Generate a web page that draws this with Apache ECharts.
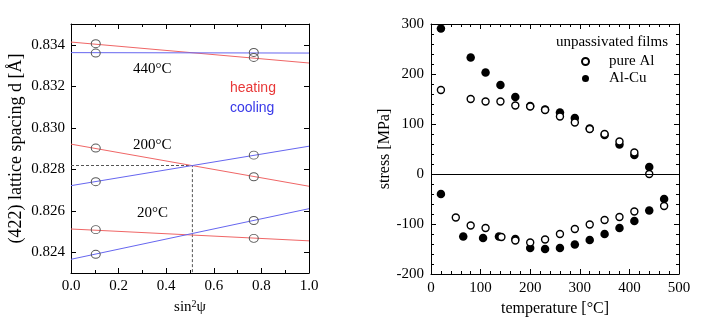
<!DOCTYPE html>
<html>
<head>
<meta charset="utf-8">
<script src="https://cdn.jsdelivr.net/npm/echarts@6/dist/echarts.min.js"></script>
<style>html,body{margin:0;padding:0;background:#fff;}#c{width:710px;height:323px;}</style>
</head>
<body>
<div id="c"></div>
<script>
// ---- Left panel: d vs sin^2 psi ----
const lineEndsPsi = [0, 1];
const heat440 = [0.83413, 0.83312];
const cool440 = [0.83362, 0.83360];
const heat200 = [0.82921, 0.82718];
const cool200 = [0.82721, 0.82911];
const heat20 = [0.82512, 0.82455];
const cool20 = [0.82366, 0.82610];
const measPsi = [0.104, 0.768];
const measAtLowPsi = [0.83405, 0.83360, 0.82902, 0.82740, 0.82509, 0.82390];
const measAtHighPsi = [0.83363, 0.83339, 0.82868, 0.82764, 0.82553, 0.82467];
const crossPsi = 0.51, crossD = 0.82818;
const leftYTicks = [0.824, 0.826, 0.828, 0.830, 0.832, 0.834];
const tempLabels = ['440°C', '200°C', '20°C'];

// ---- Right panel: stress vs temperature ----
const alUpperT = [20, 80, 110, 140, 170, 200, 230, 260, 290, 320, 350, 380, 410, 440];
const alUpperS = [168, 150, 145, 145, 137, 135, 128, 115, 103, 90, 80, 65, 43, 0];
const alLowerT = [50, 80, 110, 142, 170, 200, 230, 260, 290, 320, 350, 380, 410, 470];
const alLowerS = [-87, -103, -108, -126, -133, -137, -131, -120, -110, -101, -92, -86, -75, -64];
const cuUpperT = [20, 80, 110, 140, 170, 200, 230, 260, 290, 320, 350, 380, 410, 440];
const cuUpperS = [291, 233, 203, 178, 154, 136, 129, 123, 112, 91, 78, 59, 38, 14];
const cuLowerT = [20, 65, 105, 137, 170, 200, 230, 260, 290, 320, 350, 380, 410, 440, 470];
const cuLowerS = [-40, -125, -128, -125, -130, -148, -150, -148, -141, -132, -120, -108, -94, -73, -50];

const SERIF = '"Liberation Serif", "DejaVu Serif", serif';
const SANS = '"Liberation Sans", Arial, sans-serif';
const RED = '#f06666', BLUE = '#6666f0';

const pairs = (xs, ys) => xs.map((x, i) => [x, ys[i]]);
const ends = arr => pairs(lineEndsPsi, arr);

function frameAxes(gridIndex, minorSplit) {
  return {
    gridIndex, axisLine: {show: true, onZero: false, lineStyle: {color: '#000', width: 1}},
    splitLine: {show: false},
    axisTick: {show: true, inside: true, length: 5, lineStyle: {color: '#000'}},
    minorTick: {show: true, splitNumber: minorSplit, length: 3, lineStyle: {color: '#000'}},
  };
}

const chart = echarts.init(document.getElementById('c'), null, {renderer: 'canvas'});

const labelStyle = {color: '#000', fontFamily: SERIF, fontSize: 15};

const xAxes = [
  Object.assign(frameAxes(0, 2), {
    type: 'value', min: 0, max: 1, interval: 0.2, position: 'bottom',
    axisLabel: Object.assign({margin: 6, formatter: v => v.toFixed(1)}, labelStyle),
    name: '{n|sin}{s|2}{n|ψ}', nameLocation: 'middle', nameGap: 11,
    nameTextStyle: {rich: {n: {fontFamily: SERIF, fontSize: 15, color: '#000'}, s: {fontFamily: SERIF, fontSize: 10, color: '#000', verticalAlign: 'top', padding: [0, 0, 6, 0]}}}
  }),
  Object.assign(frameAxes(0, 2), {
    type: 'value', min: 0, max: 1, interval: 0.2, position: 'top', axisLabel: {show: false}
  }),
  Object.assign(frameAxes(1, 5), {
    type: 'value', min: 0, max: 500, interval: 100, position: 'bottom',
    axisLabel: Object.assign({margin: 7}, labelStyle),
    name: 'temperature [°C]', nameLocation: 'middle', nameGap: 26,
    nameTextStyle: {fontFamily: SERIF, fontSize: 16, color: '#000'}
  }),
  Object.assign(frameAxes(1, 5), {
    type: 'value', min: 0, max: 500, interval: 100, position: 'top', axisLabel: {show: false}
  })
];

const leftY = (pos, showLabel) => ({
  gridIndex: 0, type: 'value', min: 0.823, max: 0.835, position: pos,
  axisLine: {show: true, onZero: false, lineStyle: {color: '#000', width: 1}},
  splitLine: {show: false},
  axisTick: {show: true, inside: true, length: 5, customValues: leftYTicks, lineStyle: {color: '#000'}},
  axisLabel: Object.assign({show: showLabel, margin: 6, customValues: leftYTicks, formatter: v => v.toFixed(3)}, labelStyle)
});

const yAxes = [
  Object.assign(leftY('left', true), {
    name: '(422) lattice spacing d [Å]', nameLocation: 'middle', nameGap: 46,
    nameTextStyle: {fontFamily: SERIF, fontSize: 18, color: '#000'}
  }),
  leftY('right', false),
  Object.assign(frameAxes(1, 5), {
    type: 'value', min: -200, max: 300, interval: 100, position: 'left',
    axisLabel: Object.assign({margin: 7}, labelStyle),
    name: 'stress [MPa]', nameLocation: 'middle', nameGap: 34,
    nameTextStyle: {fontFamily: SERIF, fontSize: 16, color: '#000'}
  }),
  Object.assign(frameAxes(1, 5), {
    type: 'value', min: -200, max: 300, interval: 100, position: 'right', axisLabel: {show: false}
  })
];

const fitLine = (data, color) => ({
  type: 'line', xAxisIndex: 0, yAxisIndex: 0, data, symbol: 'none', silent: true,
  lineStyle: {color, width: 1}, z: 2
});

const measData = measAtLowPsi.map(d => [measPsi[0], d]).concat(measAtHighPsi.map(d => [measPsi[1], d]));

const series = [
  fitLine(ends(heat440), RED), fitLine(ends(cool440), BLUE),
  fitLine(ends(heat200), RED), fitLine(ends(cool200), BLUE),
  fitLine(ends(heat20), RED), fitLine(ends(cool20), BLUE),
  {
    type: 'line', xAxisIndex: 0, yAxisIndex: 0, symbol: 'none', silent: true,
    data: [[0, crossD], [crossPsi, crossD], [crossPsi, 0.823]],
    lineStyle: {color: '#555', width: 1, type: [3, 2]}, z: 1
  },
  {
    type: 'scatter', xAxisIndex: 0, yAxisIndex: 0, data: measData, symbol: 'circle', symbolSize: [9, 8],
    itemStyle: {color: 'rgba(0,0,0,0)', borderColor: '#5a5a5a', borderWidth: 1, opacity: 1}, z: 3
  },
  {
    name: 'pure Al', type: 'scatter', xAxisIndex: 2, yAxisIndex: 2,
    data: pairs(alUpperT, alUpperS).concat(pairs(alLowerT, alLowerS)),
    symbol: 'circle', symbolSize: 7,
    itemStyle: {color: '#fff', borderColor: '#000', borderWidth: 1.4, opacity: 1}, z: 4,
    markLine: {silent: true, symbol: 'none', label: {show: false},
      lineStyle: {color: '#000', width: 1, type: 'solid'}, data: [{yAxis: 0}]}
  },
  {
    name: 'Al-Cu', type: 'scatter', xAxisIndex: 2, yAxisIndex: 2,
    data: pairs(cuUpperT, cuUpperS).concat(pairs(cuLowerT, cuLowerS)),
    symbol: 'circle', symbolSize: 8.5,
    itemStyle: {color: '#000', opacity: 1}, z: 3
  }
];

chart.setOption({
  animation: false,
  backgroundColor: '#fff',
  grid: [
    {left: 71, top: 24, width: 238, height: 249},
    {left: 431, top: 24, width: 248, height: 250}
  ],
  xAxis: xAxes,
  yAxis: yAxes,
  legend: {
    data: ['pure Al', 'Al-Cu'], orient: 'vertical', left: 581, top: 53,
    itemWidth: 7, itemHeight: 7, itemGap: 0, padding: 0,
    textStyle: {fontFamily: SERIF, fontSize: 15, color: '#000', padding: [0, 0, 0, 15], lineHeight: 17}
  },
  graphic: [
    {type: 'text', left: 133, top: 62, style: {text: tempLabels[0], font: '15px ' + SERIF, fill: '#000'}},
    {type: 'text', left: 133, top: 138, style: {text: tempLabels[1], font: '15px ' + SERIF, fill: '#000'}},
    {type: 'text', left: 137, top: 206, style: {text: tempLabels[2], font: '15px ' + SERIF, fill: '#000'}},
    {type: 'text', left: 230, top: 81, style: {text: 'heating', font: '14px ' + SANS, fill: '#e83838'}},
    {type: 'text', left: 230, top: 101, style: {text: 'cooling', font: '14px ' + SANS, fill: '#3838e8'}},
    {type: 'text', right: 42, top: 35, style: {text: 'unpassivated films', font: '15px ' + SERIF, fill: '#000'}}
  ],
  series
});
</script>
</body>
</html>
